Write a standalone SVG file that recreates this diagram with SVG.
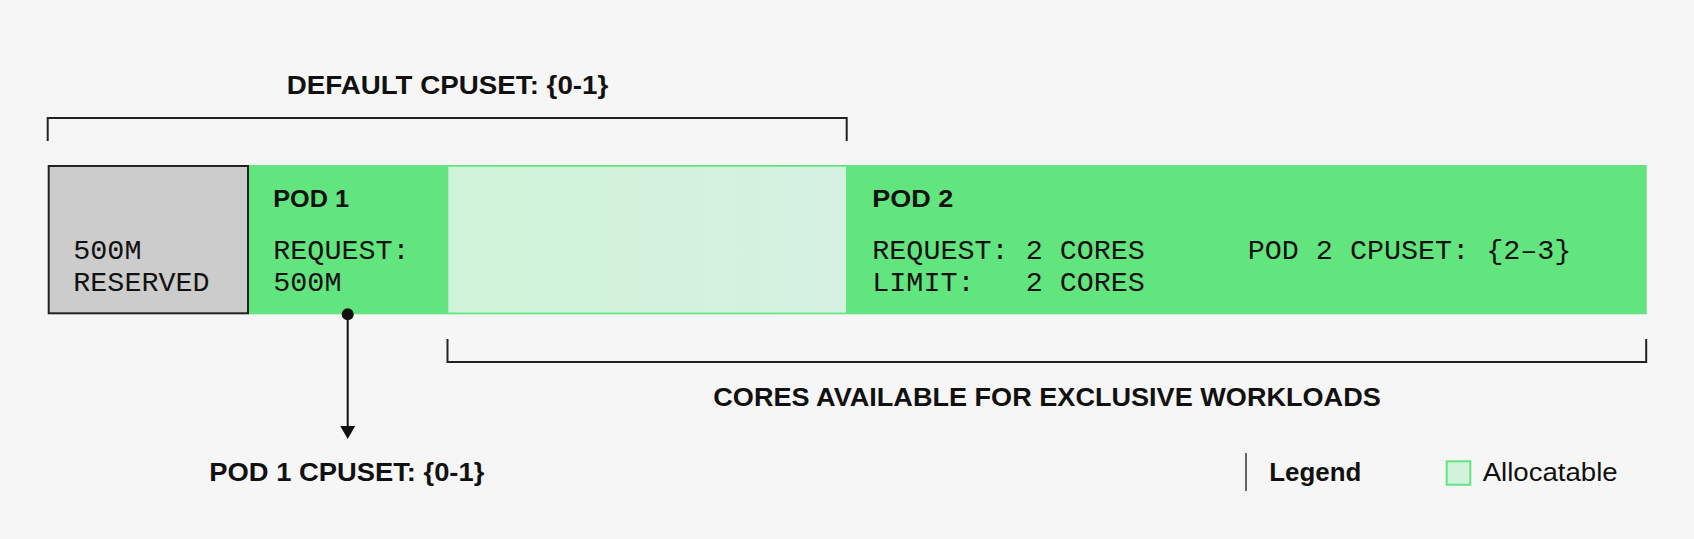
<svg xmlns="http://www.w3.org/2000/svg" width="1694" height="539" viewBox="0 0 1694 539">
  <style>
    .bold { font-family: "Liberation Sans", Arial, sans-serif; font-weight: 700; fill: #111111; }
    .mono { font-family: "Liberation Mono", "DejaVu Sans Mono", monospace; font-size: 28.4px; fill: #111111; }
    .reg { font-family: "Liberation Sans", Arial, sans-serif; font-weight: 400; fill: #111111; }
    .bracket { fill: none; stroke: #222222; stroke-width: 2; }
    .pod { fill: #62e57f; }
  </style>
  <defs>
    <linearGradient id="alloc" x1="0" y1="0" x2="1" y2="0">
      <stop offset="0" stop-color="#cff3d8"/>
      <stop offset="1" stop-color="#d6f1e2"/>
    </linearGradient>
  </defs>
  <rect x="0" y="0" width="1694" height="539" fill="#f6f6f6"/>

  <g id="title-default-cpuset">
    <text class="bold" x="286.7" y="94" font-size="26" textLength="321.6" lengthAdjust="spacingAndGlyphs">DEFAULT CPUSET: {0-1}</text>
  </g>

  <g id="bar">
    <rect class="pod" x="248" y="165" width="1398.7" height="149.3"/>
  </g>

  <g id="reserved">
    <rect x="48.7" y="166" width="199.3" height="147.3" fill="#cccccc" stroke="#222222" stroke-width="2"/>
    <text class="mono" x="73.3" y="259.3">500M</text>
    <text class="mono" x="73.3" y="290.7">RESERVED</text>
  </g>

  <g id="pod1">
    <text class="bold" x="273.3" y="207.3" font-size="23" textLength="75.7" lengthAdjust="spacingAndGlyphs">POD 1</text>
    <text class="mono" x="273.3" y="259.3">REQUEST:</text>
    <text class="mono" x="273.3" y="290.7">500M</text>
  </g>

  <g id="allocatable">
    <rect x="448.3" y="166.8" width="397.7" height="145.8" fill="url(#alloc)"/>
  </g>

  <g id="pod2">
    <text class="bold" x="872.3" y="207.3" font-size="23" textLength="81" lengthAdjust="spacingAndGlyphs">POD 2</text>
    <text class="mono" x="872.3" y="259.3">REQUEST: 2 CORES</text>
    <text class="mono" x="872.3" y="290.7" xml:space="preserve">LIMIT:   2 CORES</text>
    <text class="mono" x="1247.7" y="259.3">POD 2 CPUSET: {2–3}</text>
  </g>

  <g id="connectors">
    <path class="bracket" d="M47.7,141 V118 H846.7 V141"/>
    <path class="bracket" d="M447.5,339 V362 H1646.2 V339"/>
    <circle cx="347.7" cy="314.3" r="6" fill="#111111"/>
    <line x1="347.7" y1="314" x2="347.7" y2="428" stroke="#111111" stroke-width="2"/>
    <polygon points="340.2,426 355.2,426 347.7,439" fill="#111111"/>
  </g>

  <g id="label-exclusive">
    <text class="bold" x="713.3" y="405.7" font-size="25.5" textLength="667.5" lengthAdjust="spacingAndGlyphs">CORES AVAILABLE FOR EXCLUSIVE WORKLOADS</text>
  </g>

  <g id="label-pod1-cpuset">
    <text class="bold" x="209.3" y="481" font-size="25" textLength="275" lengthAdjust="spacingAndGlyphs">POD 1 CPUSET: {0-1}</text>
  </g>

  <g id="legend">
    <line x1="1246" y1="453" x2="1246" y2="491" stroke="#333333" stroke-width="1.5"/>
    <text class="bold" x="1269.3" y="481" font-size="26" textLength="92" lengthAdjust="spacingAndGlyphs">Legend</text>
    <rect x="1446.7" y="461.3" width="23.6" height="23.4" fill="url(#alloc)" stroke="#62e57f" stroke-width="2"/>
    <text class="reg" x="1482.7" y="481" font-size="26.5" textLength="135" lengthAdjust="spacingAndGlyphs">Allocatable</text>
  </g>
</svg>
